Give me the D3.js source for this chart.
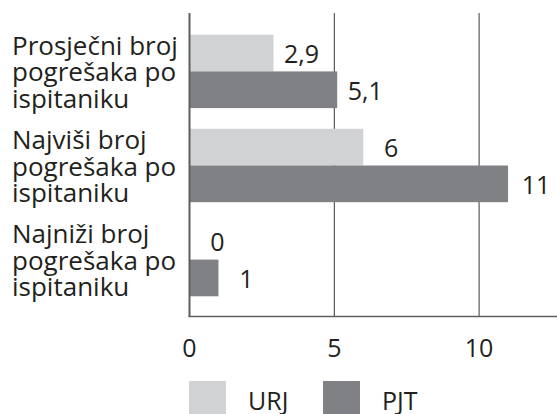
<!DOCTYPE html>
<html>
<head>
<meta charset="utf-8">
<script src="https://cdn.jsdelivr.net/npm/d3@7"></script>
<style>
  body { margin: 0; background: #fff; }
  text { font-family: "Open Sans", "Noto Sans", sans-serif; fill: #231f20; }
</style>
</head>
<body>
<div id="chart"></div>
<script>
// data
var categories = [
  ["Prosječni broj", "pogrešaka po", "ispitaniku"],
  ["Najviši broj", "pogrešaka po", "ispitaniku"],
  ["Najniži broj", "pogrešaka po", "ispitaniku"]
];
var seriesNames = ["URJ", "PJT"];
var urjValues = [2.9, 6, 0];
var pjtValues = [5.1, 11, 1];
var xTicks = [0, 5, 10];
var colors = ["#d1d2d4", "#808184"];

var svgWidth = 557;
var svgHeight = 414;

var svg = d3.select("#chart")
  .append("svg")
  .attr("width", svgWidth)
  .attr("height", svgHeight);

var x = d3.scaleLinear()
  .domain([0, 12.69])
  .range([189.5, 557]);

var y = d3.scaleBand()
  .domain(d3.range(categories.length))
  .range([14, 317])
  .paddingInner(0.22)
  .paddingOuter(0.22);

var ySub = d3.scaleBand()
  .domain(seriesNames)
  .range([0, y.bandwidth()]);

var fmt = function(v) { return String(v).replace(".", ","); };

// gridlines
svg.append("g")
  .selectAll("line")
  .data(xTicks.slice(1))
  .enter()
  .append("line")
  .attr("x1", function(d) { return x(d); })
  .attr("x2", function(d) { return x(d); })
  .attr("y1", 13)
  .attr("y2", 317)
  .attr("stroke", "#3a3a3a")
  .attr("stroke-width", 1);

// bars
var rows = categories.map(function(c, i) {
  return [
    { series: "URJ", value: urjValues[i], row: i },
    { series: "PJT", value: pjtValues[i], row: i }
  ];
});

var groups = svg.append("g")
  .selectAll("g")
  .data(rows)
  .enter()
  .append("g")
  .attr("transform", function(d, i) { return "translate(0," + y(i) + ")"; });

groups.selectAll("rect")
  .data(function(d) { return d; })
  .enter()
  .append("rect")
  .attr("x", x(0))
  .attr("y", function(d) { return ySub(d.series); })
  .attr("width", function(d) { return x(d.value) - x(0); })
  .attr("height", ySub.bandwidth())
  .attr("fill", function(d, i) { return colors[i]; });

groups.selectAll("text")
  .data(function(d) { return d; })
  .enter()
  .append("text")
  .attr("x", function(d) { return x(d.value) + 28; })
  .attr("y", function(d) { return ySub(d.series) + ySub.bandwidth() / 2 + 10; })
  .attr("text-anchor", "middle")
  .style("font-size", "25px")
  .text(function(d) { return fmt(d.value); });

// category labels
var catText = svg.append("g")
  .selectAll("text")
  .data(categories)
  .enter()
  .append("text")
  .attr("x", 12)
  .attr("y", function(d, i) { return y(i) + y.bandwidth() / 2 + 10; })
  .style("font-size", "26px");

catText.selectAll("tspan")
  .data(function(d) { return d; })
  .enter()
  .append("tspan")
  .attr("x", 12)
  .attr("dy", function(d, i) { return i === 0 ? "-26.5" : "26.5"; })
  .text(function(d) { return d; });

// axes lines
svg.append("line")
  .attr("x1", x(0)).attr("x2", x(0))
  .attr("y1", 13).attr("y2", 317)
  .attr("stroke", "#5f5f5f")
  .attr("stroke-width", 2);

svg.append("line")
  .attr("x1", x(0) - 1).attr("x2", 557)
  .attr("y1", 316.5).attr("y2", 316.5)
  .attr("stroke", "#5f5f5f")
  .attr("stroke-width", 1.6);

// tick labels
svg.append("g")
  .selectAll("text")
  .data(xTicks)
  .enter()
  .append("text")
  .attr("x", function(d) { return x(d); })
  .attr("y", 357)
  .attr("text-anchor", "middle")
  .style("font-size", "25px")
  .text(function(d) { return d; });

// legend
var legendX = [189, 323];
var legend = svg.append("g")
  .selectAll("g")
  .data(seriesNames)
  .enter()
  .append("g")
  .attr("transform", function(d, i) { return "translate(" + legendX[i] + ",381)"; });

legend.append("rect")
  .attr("width", 37)
  .attr("height", 33)
  .attr("fill", function(d, i) { return colors[i]; });

legend.append("text")
  .attr("x", 59)
  .attr("y", 29)
  .style("font-size", "25px")
  .text(function(d) { return d; });
</script>
</body>
</html>
